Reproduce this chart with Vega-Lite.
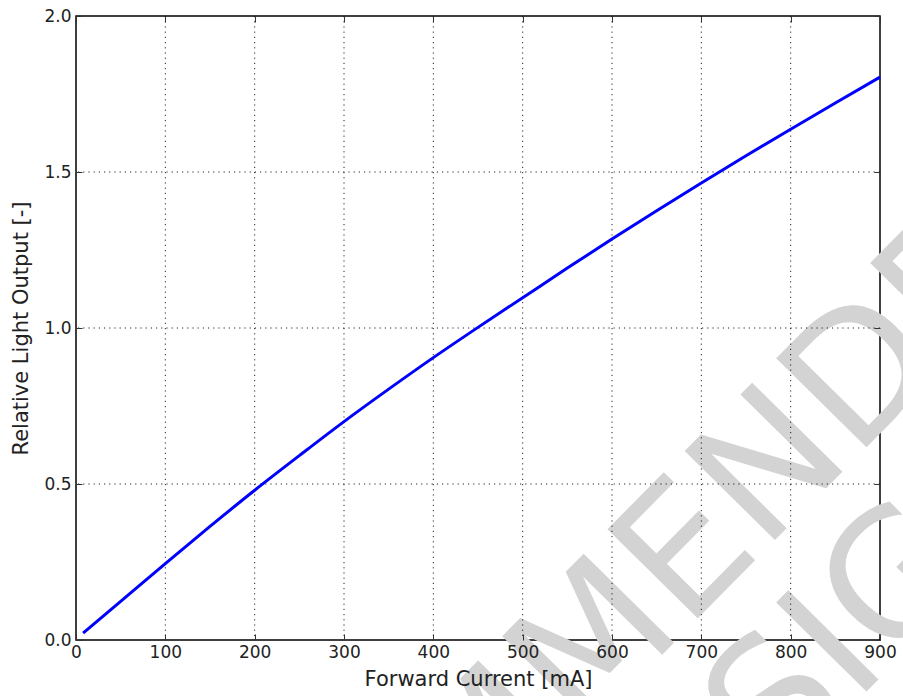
{
  "$schema": "https://vega.github.io/schema/vega-lite/v6.json",
  "width": 804,
  "height": 624,
  "autosize": "none",
  "padding": {"left": 76, "top": 16, "right": 23, "bottom": 56},
  "background": "#ffffff",
  "config": {
    "view": {"stroke": "#000000", "strokeWidth": 1.5},
    "axis": {
      "domain": false,
      "grid": false,
      "ticks": true,
      "tickSize": -6,
      "tickColor": "#333333",
      "tickWidth": 1,
      "labelFont": "DejaVu Sans",
      "labelFontSize": 17,
      "labelColor": "#222222",
      "titleFont": "DejaVu Sans",
      "titleFontSize": 21,
      "titleFontWeight": "normal",
      "titleColor": "#222222"
    }
  },
  "resolve": {"axis": {"x": "independent", "y": "independent"}},
  "layer": [
    {
      "data": {"values": [
        {"wx": 615.2, "wy": -0.1654, "label": "RECOMMENDED"},
        {"wx": 899.9, "wy": -0.1215, "label": "DESIGNS"}
      ]},
      "mark": {"type": "text", "font": "DejaVu Sans", "fontWeight": "normal", "fontSize": 174, "angle": -45.4, "align": "center", "baseline": "alphabetic", "color": "#d3d3d3"},
      "encoding": {
        "x": {"field": "wx", "type": "quantitative", "scale": {"domain": [0, 900], "nice": false, "zero": false}, "axis": {"orient": "top", "labels": false, "title": null, "zindex": 1, "values": [0, 100, 200, 300, 400, 500, 600, 700, 800, 900]}},
        "y": {"field": "wy", "type": "quantitative", "scale": {"domain": [0, 2], "nice": false, "zero": false}, "axis": {"orient": "right", "labels": false, "title": null, "zindex": 1, "values": [0, 0.5, 1, 1.5, 2]}},
        "text": {"field": "label", "type": "nominal"}
      }
    },
    {
      "data": {"values": [
        {"gx": 100}, {"gx": 200}, {"gx": 300}, {"gx": 400}, {"gx": 500}, {"gx": 600}, {"gx": 700}, {"gx": 800}
      ]},
      "mark": {"type": "rule", "color": "#000000", "strokeWidth": 1, "strokeDash": [1.2, 4], "opacity": 0.85},
      "encoding": {
        "x": {"field": "gx", "type": "quantitative", "axis": null}
      }
    },
    {
      "data": {"values": [
        {"gy": 0.5}, {"gy": 1.0}, {"gy": 1.5}
      ]},
      "mark": {"type": "rule", "color": "#000000", "strokeWidth": 1, "strokeDash": [1.2, 4], "opacity": 0.85},
      "encoding": {
        "y": {"field": "gy", "type": "quantitative", "axis": null}
      }
    },
    {
      "data": {"values": [
        {"current": 8, "output": 0.022},
        {"current": 50, "output": 0.124},
        {"current": 100, "output": 0.245},
        {"current": 150, "output": 0.364},
        {"current": 200, "output": 0.48},
        {"current": 250, "output": 0.591},
        {"current": 300, "output": 0.7},
        {"current": 350, "output": 0.804},
        {"current": 400, "output": 0.905},
        {"current": 450, "output": 1.002},
        {"current": 500, "output": 1.097},
        {"current": 550, "output": 1.192},
        {"current": 600, "output": 1.285},
        {"current": 650, "output": 1.376},
        {"current": 700, "output": 1.465},
        {"current": 750, "output": 1.552},
        {"current": 800, "output": 1.637},
        {"current": 850, "output": 1.721},
        {"current": 900, "output": 1.804}
      ]},
      "mark": {"type": "line", "color": "#0000ff", "strokeWidth": 3, "interpolate": "monotone"},
      "encoding": {
        "x": {"field": "current", "type": "quantitative", "axis": {"orient": "bottom", "title": "Forward Current [mA]", "zindex": 1, "values": [0, 100, 200, 300, 400, 500, 600, 700, 800, 900], "labelPadding": 10, "titlePadding": 8, "labelFlush": false}},
        "y": {"field": "output", "type": "quantitative", "axis": {"orient": "left", "title": "Relative Light Output [-]", "zindex": 1, "values": [0, 0.5, 1, 1.5, 2], "format": ".1f", "labelPadding": 11, "titlePadding": 12}}
      }
    }
  ]
}
